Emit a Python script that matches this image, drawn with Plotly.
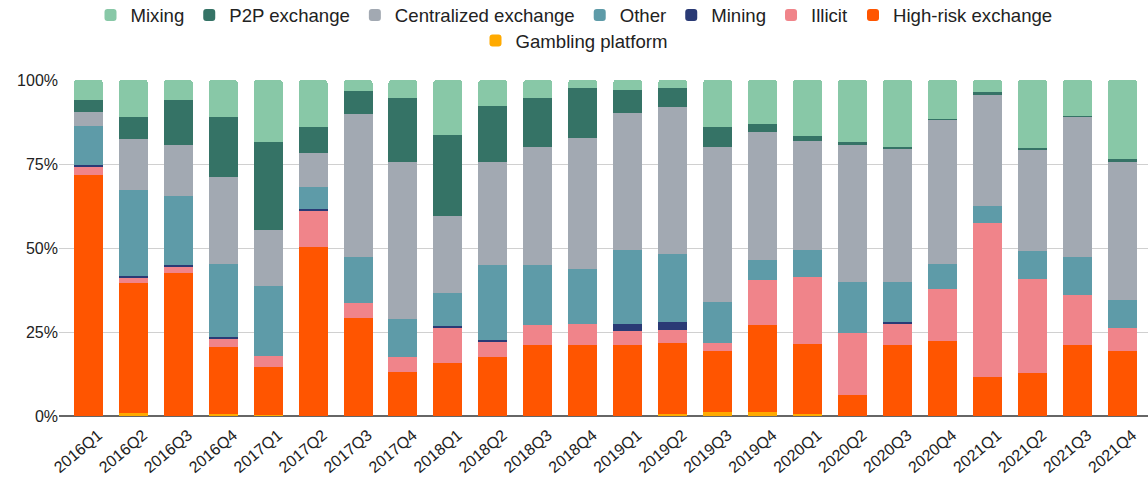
import plotly.graph_objects as go

quarters = ["2016Q1","2016Q2","2016Q3","2016Q4","2017Q1","2017Q2","2017Q3","2017Q4",
            "2018Q1","2018Q2","2018Q3","2018Q4","2019Q1","2019Q2","2019Q3","2019Q4",
            "2020Q1","2020Q2","2020Q3","2020Q4","2021Q1","2021Q2","2021Q3","2021Q4"]

gambling = [0, 1.0, 0, 0.5, 0.4, 0, 0, 0, 0, 0, 0, 0, 0, 0.6, 1.1, 1.1, 0.6, 0, 0, 0, 0, 0, 0, 0]
high_risk = [71.6, 38.6, 42.6, 20.1, 14.1, 50.3, 29.2, 13.1, 15.7, 17.5, 21.0, 21.0,
             21.0, 21.2, 18.2, 25.9, 20.8, 6.3, 21.0, 22.2, 11.5, 12.8, 21.0, 19.3]
illicit = [2.6, 1.7, 1.8, 2.6, 3.4, 10.9, 4.3, 4.4, 10.5, 4.7, 6.0, 6.4,
           4.2, 3.9, 2.4, 13.4, 19.9, 18.5, 6.4, 15.6, 45.8, 28.0, 15.0, 6.9]
mining = [0.4, 0.5, 0.4, 0.3, 0, 0.4, 0, 0, 0.5, 0.5, 0, 0,
          2.3, 2.2, 0, 0, 0, 0, 0.5, 0, 0, 0, 0, 0]
other = [11.7, 25.4, 20.7, 21.7, 20.7, 6.5, 13.9, 11.3, 9.8, 22.1, 17.8, 16.5,
         22.0, 20.4, 12.3, 6.1, 8.2, 15.2, 12.1, 7.4, 5.2, 8.3, 11.4, 8.3]
centralized = [4.3, 15.2, 15.1, 25.9, 16.9, 10.1, 42.4, 46.7, 23.0, 30.7, 35.4, 38.9,
               40.7, 43.7, 46.2, 38.1, 32.4, 40.7, 39.4, 42.9, 33.3, 30.3, 41.6, 41.1]
p2p = [3.4, 6.5, 13.4, 17.8, 26.0, 7.7, 6.9, 19.0, 24.2, 16.9, 14.3, 14.8,
       6.9, 5.6, 5.7, 2.2, 1.4, 0.8, 0.8, 0.4, 0.5, 0.4, 0.4, 0.8]
mixing = [6.0, 11.1, 6.0, 11.1, 18.5, 14.1, 3.3, 5.5, 16.3, 7.6, 5.5, 2.4,
          2.9, 2.4, 14.1, 13.2, 16.7, 18.5, 19.8, 11.5, 3.7, 20.2, 10.6, 23.6]

y_ticks = [0, 25, 50, 75, 100]
y_tick_text = ["0%", "25%", "50%", "75%", "100%"]

series = [
    ("Gambling platform", gambling, "#FFAA00"),
    ("High-risk exchange", high_risk, "#FF5500"),
    ("Illicit", illicit, "#F0848A"),
    ("Mining", mining, "#2A3A75"),
    ("Other", other, "#5E9BA8"),
    ("Centralized exchange", centralized, "#A2A9B2"),
    ("P2P exchange", p2p, "#357366"),
    ("Mixing", mixing, "#88C8A7"),
]

totals = [sum(s[1][i] for s in series) for i in range(len(quarters))]

fig = go.Figure()
for name, vals, color in series:
    norm = [v / t * 100 for v, t in zip(vals, totals)]
    fig.add_trace(go.Bar(name=name, x=quarters, y=norm, marker_color=color,
                         marker_line_width=0,
                         legend="legend2" if name == "Gambling platform" else "legend"))

plot_h = 484 - 80 - 68
legend_font = dict(family="Liberation Sans, Arial, sans-serif", size=18.6, color="#222222")
fig.update_layout(
    barmode="stack",
    bargap=0.355,
    barcornerradius=3,
    width=1148, height=484,
    margin=dict(l=59, r=0, t=80, b=68, autoexpand=False),
    paper_bgcolor="white", plot_bgcolor="white",
    font=dict(family="Liberation Sans, Arial, sans-serif", size=16, color="#222222"),
    legend=dict(orientation="h", x=0.5, xanchor="center", xref="container",
                y=1 + 83.5 / plot_h, yanchor="top", yref="paper",
                traceorder="reversed", font=legend_font, itemwidth=30,
                bgcolor="rgba(0,0,0,0)"),
    legend2=dict(orientation="h", x=0.5, xanchor="center", xref="container",
                 y=1 + 58 / plot_h, yanchor="top", yref="paper",
                 font=legend_font, itemwidth=30, bgcolor="rgba(0,0,0,0)"),
    showlegend=True,
)
fig.update_xaxes(range=[-0.65, 23.57], tickangle=-40, tickfont=dict(size=16),
                 ticklabelshift=10, ticklabelstandoff=6,
                 showgrid=False, ticks="", showline=False, automargin=False)
fig.update_yaxes(range=[0, 100], tickvals=y_ticks, ticktext=y_tick_text,
                 showgrid=True, gridcolor="#D0D0D0", gridwidth=1,
                 zeroline=True, zerolinecolor="#666666", zerolinewidth=2,
                 tickfont=dict(size=16), automargin=False)

fig.write_html("out.html", config={"displayModeBar": False},
               post_script="document.body.style.margin='0';")
